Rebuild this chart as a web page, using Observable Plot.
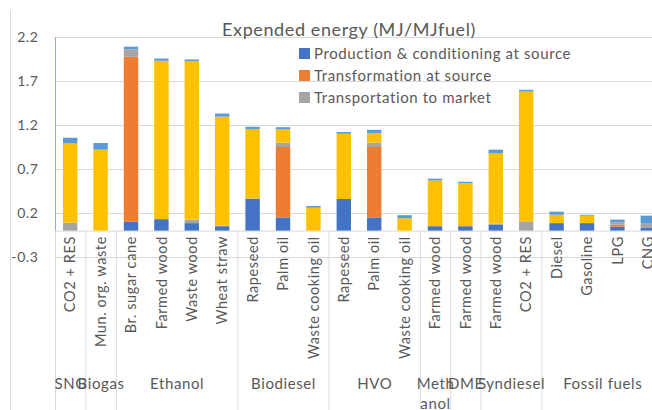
<!DOCTYPE html>
<html><head><meta charset="utf-8">
<script src="https://cdn.jsdelivr.net/npm/d3@7"></script>
<script src="https://cdn.jsdelivr.net/npm/@observablehq/plot@0.6"></script>
<style>
html,body{margin:0;padding:0;background:#fff;overflow:hidden}
#wrap{position:relative;width:652px;height:410px;font-family:Lato,"Open Sans",sans-serif;color:#595959;letter-spacing:0.6px}
#frame{position:absolute;left:10px;top:10px;bottom:0;border-left:1px solid #D9D9D9}
#chart{position:absolute;left:0;top:0}
#title{position:absolute;left:150px;width:398px;top:20px;text-align:center;font-size:18px;line-height:18px;white-space:nowrap}
#legend{position:absolute;left:299px;top:42px;font-size:15px;line-height:22px}
#legend .row{display:flex;align-items:center;white-space:nowrap}
#legend .sw{width:11px;height:11px;margin-right:4px;display:inline-block}
</style>
</head><body>
<div id="wrap">
  <div id="frame"></div>
  <div id="chart"></div>
  <div id="title">Expended energy (MJ/MJfuel)</div>
  <div id="legend"></div>
</div>
<script>
// ---- data ----
const groups = ["SNG","Biogas","Ethanol","Ethanol","Ethanol","Ethanol","Biodiesel","Biodiesel","Biodiesel","HVO","HVO","HVO","Methanol","DME","Syndiesel","Syndiesel","Fossil fuels","Fossil fuels","Fossil fuels","Fossil fuels"];
const groupLabels = ["SNG","Biogas","Ethanol","Biodiesel","HVO","Meth\nanol","DME","Syndiesel","Fossil fuels"];
const feeds = ["CO2 + RES","Mun. org. waste","Br. sugar cane","Farmed wood","Waste wood","Wheat straw","Rapeseed","Palm oil","Waste cooking oil","Rapeseed","Palm oil","Waste cooking oil","Farmed wood","Farmed wood","Farmed wood","CO2 + RES","Diesel","Gasoline","LPG","CNG"];
const seriesNames = ["Production & conditioning at source","Transformation at source","Transportation to market","Transformation near market","Distribution"];
const legendSeries = ["Production & conditioning at source","Transformation at source","Transportation to market"];
const seriesColors = ["#4472C4","#ED7D31","#A5A5A5","#FFC000","#5B9BD5"];
const production     = [0,    0,    0.10,  0.13, 0.085, 0.05,  0.36,  0.15, 0,    0.36, 0.15, 0,    0.05, 0.05,  0.065, 0,     0.085, 0.085, 0.045, 0.03];
const transformation = [0,    0,    1.875, 0,    0,     0,     0,     0.80, 0,    0,    0.80, 0,    0,    0,     0,     0,     0,     0,     0.025, 0];
const transport      = [0.09, 0,    0.085, 0,    0.04,  0.005, 0.005, 0.05, 0,    0,    0.05, 0,    0,    0,     0.015, 0.105, 0,     0,     0.025, 0.055];
const nearMarket     = [0.90, 0.92, 0,     1.80, 1.80,  1.24,  0.79,  0.15, 0.26, 0.74, 0.11, 0.14, 0.52, 0.49,  0.80,  1.475, 0.095, 0.085, 0,     0];
const distribution   = [0.065,0.075,0.03,  0.025,0.02,  0.035, 0.025, 0.025,0.02, 0.02, 0.035,0.035,0.02, 0.015, 0.04,  0.02,  0.035, 0.01,  0.03,  0.085];
const yTicks = [-0.3, 0.2, 0.7, 1.2, 1.7, 2.2];

// ---- derived tables ----
const seriesValues = [production, transformation, transport, nearMarket, distribution];
const rows = [];
seriesNames.forEach((s, k) => feeds.forEach((f, i) => rows.push({i, series: s, value: seriesValues[k][i]})));
const spans = [];
groups.forEach((g, i) => {
  const last = spans[spans.length - 1];
  if (!last || last.name !== g) spans.push({name: g, start: i, end: i + 1});
  else last.end = i + 1;
});
spans.forEach((s, j) => s.label = groupLabels[j]);
const boundaries = spans.map(s => s.start).concat([feeds.length]);

const chart = Plot.plot({
  width: 652, height: 410,
  marginLeft: 55, marginRight: -11, marginTop: 37, marginBottom: 153,
  style: {fontFamily: "Lato, 'Open Sans', sans-serif", fontSize: "14px", color: "#595959", background: "transparent"},
  x: {domain: [0, feeds.length], axis: null},
  y: {domain: [-0.3, 2.2], ticks: yTicks, tickFormat: d => d.toFixed(1), tickSize: 0, tickPadding: 17, label: null},
  color: {domain: seriesNames, range: seriesColors},
  marks: [
    Plot.ruleY(yTicks, {stroke: "#D9D9D9"}),
    Plot.ruleY([0], {stroke: "#D9D9D9"}),
    Plot.ruleX(boundaries, {y1: 0, y2: -2.2, stroke: "#D9D9D9"}),
    Plot.rectY(rows, {x1: d => d.i, x2: d => d.i + 1, y: "value", fill: "series", insetLeft: 8, insetRight: 8}),
    Plot.ruleX([0], {y1: 0, y2: 2.2, stroke: "#8FAADC"}),
    Plot.text(feeds, {x: (d, i) => i + 0.5, y: 0, text: d => d, rotate: -90, textAnchor: "end", dy: 5, fill: "#595959", fontSize: 14.5}),
    Plot.text(spans, {x: d => (d.start + d.end) / 2, frameAnchor: "bottom", text: "label", lineAnchor: "top", lineHeight: 1.3, dy: 118, fill: "#595959", fontSize: 15})
  ]
});
document.getElementById("chart").appendChild(chart);

const legend = document.getElementById("legend");
legendSeries.forEach(s => {
  const row = document.createElement("div");
  row.className = "row";
  const sw = document.createElement("span");
  sw.className = "sw";
  sw.style.background = seriesColors[seriesNames.indexOf(s)];
  const t = document.createElement("span");
  t.textContent = s;
  row.appendChild(sw); row.appendChild(t);
  legend.appendChild(row);
});
</script>
</body></html>
